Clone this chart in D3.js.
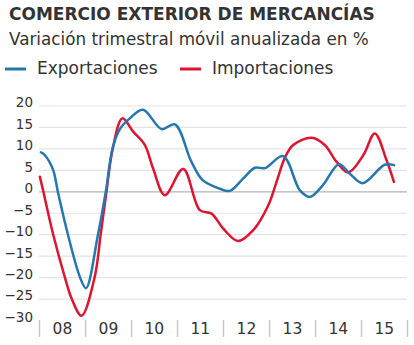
<!DOCTYPE html>
<html>
<head>
<meta charset="utf-8">
<script src="https://cdn.jsdelivr.net/npm/d3@7"></script>
<style>
  body { margin: 0; background: #fff; }
  svg { display: block; font-family: "DejaVu Sans", sans-serif; }
</style>
</head>
<body>
<svg width="414" height="345"></svg>
<script>
// Exportaciones (blue)
var exportDates = ["2008-01-16", "2008-02-17", "2008-04-22", "2008-05-29", "2008-08-17", "2008-11-21",
    "2009-01-08", "2009-04-14", "2009-06-15", "2009-08-07", "2009-10-04", "2009-12-22",
    "2010-04-06", "2010-09-01", "2010-12-15", "2011-04-25", "2011-07-24", "2011-12-07",
    "2012-02-25", "2012-06-10", "2012-09-11", "2012-11-29", "2013-04-22", "2013-09-03",
    "2013-11-21", "2014-03-03", "2014-07-10", "2014-10-04", "2015-01-14", "2015-07-08", "2015-09-21"];
var exportValues = [9.1, 8.4, 5, 0, -10, -20,
    -22.6, -10, 0, 10, 14.5, 17,
    19, 14.5, 15.6, 6.9, 2.6, 0.6,
    0.1, 3, 5.5, 5.4, 8.2, 0.2,
    -1.3, 1.4, 6.3, 4.1, 1.9, 6.2, 6.1];

// Importaciones (red)
var importDates = ["2008-01-08", "2008-02-04", "2008-04-22", "2008-07-24", "2008-09-16", "2008-12-04",
    "2009-03-18", "2009-05-05", "2009-06-20", "2009-08-09", "2009-10-24", "2010-01-18",
    "2010-04-20", "2010-06-25", "2010-09-26", "2011-02-19", "2011-07-01", "2011-10-02",
    "2012-01-03", "2012-04-30", "2012-08-27", "2012-12-25", "2013-03-01", "2013-05-06",
    "2013-07-11", "2013-12-05", "2014-03-19", "2014-06-20", "2014-09-21", "2015-01-19",
    "2015-04-20", "2015-07-22", "2015-09-19"];
var importValues = [3.4, 0, -10, -20, -25, -29,
    -20, -10, 0, 10, 17, 13.9,
    10.8, 5.3, -0.9, 5.2, -4.4, -5.2,
    -8.7, -11.6, -9.1, -3.3, 2.2, 7.8,
    10.8, 12.5, 10.8, 6.9, 4.4, 8.4,
    13.5, 7.3, 2.2];

var years = [2008, 2009, 2010, 2011, 2012, 2013, 2014, 2015];
var yTicks = [20, 15, 10, 5, 0, -5, -10, -15, -20, -25, -30];

var parse = d3.timeParse("%Y-%m-%d");
var svg = d3.select("svg");

var x = d3.scaleTime()
    .domain([new Date(2008, 0, 1), new Date(2016, 0, 1)])
    .range([39, 407]);
var y = d3.scaleLinear()
    .domain([-30, 20])
    .range([320, 105.5]);

// titles
svg.append("text").attr("x", 9).attr("y", 20)
    .attr("font-size", 17).attr("font-weight", "bold").attr("fill", "#333")
    .text("COMERCIO EXTERIOR DE MERCANCÍAS");
svg.append("text").attr("x", 9).attr("y", 45)
    .attr("font-size", 16.8).attr("fill", "#333")
    .text("Variación trimestral móvil anualizada en %");

// legend
var legend = [
    { name: "Exportaciones", color: "#2677ad", x: 5 },
    { name: "Importaciones", color: "#dc1530", x: 180 }
];
legend.forEach(function (d) {
    svg.append("line").attr("x1", d.x).attr("x2", d.x + 21)
        .attr("y1", 69).attr("y2", 69)
        .attr("stroke", d.color).attr("stroke-width", 3);
    svg.append("text").attr("x", d.x + 32).attr("y", 74)
        .attr("font-size", 17).attr("fill", "#333").text(d.name);
});

// grid
var grid = svg.append("g")
    .attr("transform", "translate(39,0)")
    .call(d3.axisLeft(y).tickValues(yTicks.filter(function (v) { return v > -30; }))
        .tickSize(-368).tickFormat(""));
grid.select(".domain").remove();
grid.selectAll(".tick line")
    .attr("stroke", function (d) { return d === 0 ? "#b5b5b5" : "#e3e3e3"; })
    .attr("stroke-width", 1.2);

// y labels
var yAxis = svg.append("g")
    .attr("transform", "translate(33,0)")
    .call(d3.axisLeft(y).tickValues(yTicks).tickSize(0).tickPadding(0));
yAxis.select(".domain").remove();
yAxis.selectAll("text")
    .attr("font-family", "DejaVu Sans").attr("font-size", 13.5)
    .attr("fill", "#333").attr("dy", "0.1em");

// x ticks at year boundaries
var xTicks = svg.append("g")
    .attr("transform", "translate(0,320)")
    .call(d3.axisBottom(x)
        .tickValues(years.concat([2016]).map(function (yr) { return new Date(yr, 0, 1); }))
        .tickSize(17).tickFormat(""));
xTicks.select(".domain").remove();
xTicks.selectAll(".tick line").attr("stroke", "#c8c8c8").attr("stroke-width", 1.5);

// x labels at mid-year
var xLabels = svg.append("g")
    .attr("transform", "translate(0,320)")
    .call(d3.axisBottom(x)
        .tickValues(years.map(function (yr) { return new Date(yr, 6, 1); }))
        .tickSize(0).tickPadding(3).tickFormat(d3.timeFormat("%y")));
xLabels.select(".domain").remove();
xLabels.selectAll("text")
    .attr("font-family", "DejaVu Sans").attr("font-size", 15.5).attr("fill", "#333");

// lines
var line = d3.line()
    .x(function (d) { return x(d[0]); })
    .y(function (d) { return y(d[1]); })
    .curve(d3.curveCatmullRom.alpha(0.5));

var series = [
    { dates: importDates, values: importValues, color: "#dc1530" },
    { dates: exportDates, values: exportValues, color: "#2677ad" }
];
series.forEach(function (s) {
    var pts = s.dates.map(function (d, i) { return [parse(d), s.values[i]]; });
    svg.append("path")
        .datum(pts)
        .attr("d", line)
        .attr("fill", "none")
        .attr("stroke", s.color)
        .attr("stroke-width", 2.5)
        .attr("stroke-linejoin", "round")
        .attr("stroke-linecap", "round");
});
</script>
</body>
</html>
